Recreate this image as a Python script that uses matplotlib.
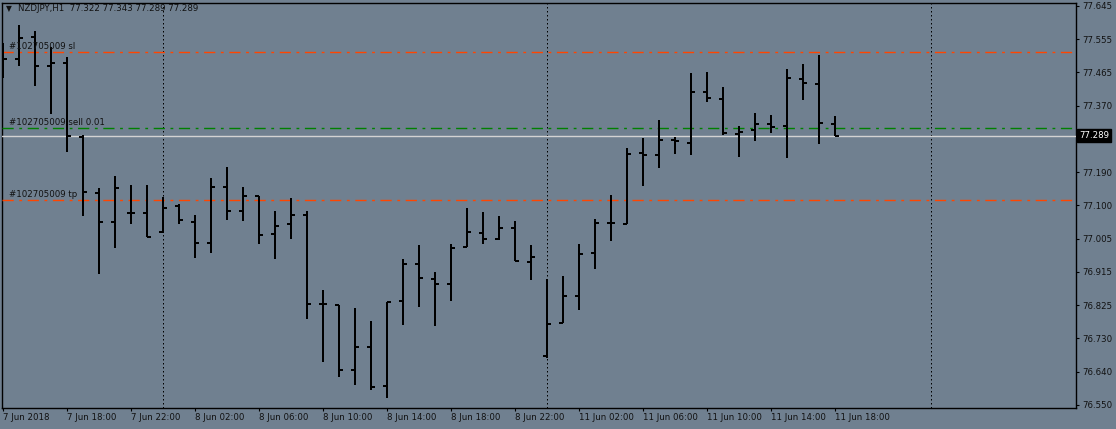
import matplotlib
matplotlib.use("Agg")
import matplotlib.pyplot as plt
import numpy as np

# ---- data (NZDJPY H1) ----
opens = [77.500, 77.500, 77.560, 77.480, 77.489, 77.286, 77.132, 77.052, 77.077, 77.077,
         77.025, 77.096, 77.052, 76.995, 77.148, 77.083, 77.124, 77.019, 77.047, 77.072,
         76.827, 76.825, 76.646, 76.709, 76.602, 76.836, 76.937, 76.896, 76.882, 76.984,
         77.022, 77.006, 77.036, 76.943, 76.685, 76.775, 76.849, 76.967, 77.050, 77.047,
         77.242, 77.236, 77.277, 77.269, 77.409, 77.390, 77.294, 77.305, 77.321, 77.316,
         77.445, 77.431, 77.322]
highs = [77.544, 77.593, 77.576, 77.533, 77.505, 77.291, 77.146, 77.179, 77.154, 77.154,
         77.121, 77.102, 77.072, 77.173, 77.203, 77.148, 77.124, 77.083, 77.118, 77.083,
         76.866, 76.825, 76.816, 76.781, 76.833, 76.951, 76.989, 76.915, 76.992, 77.091,
         77.080, 77.069, 77.055, 76.989, 76.896, 76.904, 76.992, 77.061, 77.126, 77.255,
         77.283, 77.332, 77.286, 77.461, 77.464, 77.423, 77.316, 77.351, 77.346, 77.472,
         77.486, 77.511, 77.343]
lows = [77.448, 77.480, 77.426, 77.349, 77.244, 77.069, 76.910, 76.981, 77.047, 77.011,
        77.022, 77.047, 76.954, 76.967, 77.058, 77.055, 76.992, 76.951, 77.006, 76.786,
        76.668, 76.627, 76.605, 76.591, 76.569, 76.770, 76.819, 76.767, 76.836, 76.984,
        76.992, 77.003, 76.945, 76.893, 76.679, 76.775, 76.811, 76.923, 77.000, 77.047,
        77.151, 77.201, 77.239, 77.236, 77.382, 77.291, 77.231, 77.275, 77.297, 77.228,
        77.387, 77.266, 77.289]
closes = [77.500, 77.557, 77.480, 77.489, 77.288, 77.135, 77.052, 77.146, 77.077, 77.011,
          77.091, 77.058, 76.995, 77.148, 77.083, 77.124, 77.017, 77.041, 77.072, 76.827,
          76.827, 76.646, 76.709, 76.600, 76.833, 76.937, 76.899, 76.882, 76.981, 77.025,
          77.006, 77.036, 76.945, 76.956, 76.772, 76.849, 76.965, 77.050, 77.050, 77.239,
          77.236, 77.277, 77.275, 77.409, 77.393, 77.297, 77.299, 77.321, 77.313, 77.448,
          77.434, 77.324, 77.289]

sl_price = 77.518
entry_price = 77.309
tp_price = 77.112
bid_price = 77.289
order_id = "#102705009"

x_labels = ["7 Jun 2018", "7 Jun 18:00", "7 Jun 22:00", "8 Jun 02:00", "8 Jun 06:00",
            "8 Jun 10:00", "8 Jun 14:00", "8 Jun 18:00", "8 Jun 22:00", "11 Jun 02:00",
            "11 Jun 06:00", "11 Jun 10:00", "11 Jun 14:00", "11 Jun 18:00"]
x_label_step = 4
day_separators = [10, 34, 58]   # bar indices of 8 Jun 00:00, 11 Jun 00:00, 12 Jun 00:00

y_labels = ["77.645", "77.555", "77.465", "77.370", "77.280", "77.190", "77.100",
            "77.005", "76.915", "76.825", "76.730", "76.640", "76.550"]

title = "NZDJPY,H1  77.322 77.343 77.289 77.289"

# ---- style ----
BG = "#708090"
W, H = 1116, 429
fig = plt.figure(figsize=(W / 100, H / 100), dpi=100, facecolor=BG)
ax = fig.add_axes([2 / W, 21 / H, 1074 / W, 405 / H], facecolor=BG)

n = len(opens)
idx = np.arange(n)
px = 0.72  # points per pixel

ytop = float(y_labels[0])
ybot = float(y_labels[-1])
ppx = (ytop - ybot) / 399.0
ax.set_ylim(ybot - 3 * ppx, ytop + 3 * ppx)
ax.set_xlim(-1 / 16, 1073 / 16)

# bars
ax.vlines(idx, lows, highs, color="black", lw=2 * px, zorder=5)
ax.hlines(opens, idx - 0.28, idx, color="black", lw=2 * px, zorder=5)
ax.hlines(closes, idx, idx + 0.28, color="black", lw=2 * px, zorder=5)

# day separators
for d in day_separators:
    ax.axvline(d, color="black", lw=1 * px, linestyle=(0, (1.5, 2.5)), zorder=2)

# order lines
dash = (0, (8, 4, 2, 4))
ax.axhline(sl_price, color="#FF4500", lw=1.4 * px, linestyle=dash, zorder=3)
ax.axhline(tp_price, color="#FF4500", lw=1.4 * px, linestyle=dash, zorder=3)
ax.axhline(entry_price, color="#008000", lw=1.4 * px, linestyle=dash, zorder=3)
ax.axhline(bid_price, color="#D3D3D3", lw=1.4 * px, zorder=3)

tfont = dict(family="DejaVu Sans", size=6.2, color="#111111")
ax.text(0.4, sl_price + 1.5 * ppx, f"{order_id} sl", va="bottom", ha="left", zorder=6, **tfont)
ax.text(0.4, entry_price + 1.5 * ppx, f"{order_id} sell 0.01", va="bottom", ha="left", zorder=6, **tfont)
ax.text(0.4, tp_price + 1.5 * ppx, f"{order_id} tp", va="bottom", ha="left", zorder=6, **tfont)

# title
ax.text(0.2, ytop - 3 * ppx, "\u25bc", va="center", ha="left", zorder=6,
        family="DejaVu Sans", size=5.5, color="#111111")
ax.text(0.95, ytop - 3 * ppx, title, va="center", ha="left", zorder=6,
        family="DejaVu Sans", size=6.2, color="#111111")

# y axis (right)
yticks = np.linspace(ytop, ybot, len(y_labels))
ax.yaxis.tick_right()
ax.set_yticks(yticks)
ax.set_yticklabels([("" if abs(v - bid_price) < 0.02 else s) for v, s in zip(yticks, y_labels)])
ax.tick_params(axis="y", length=3 * px, width=0.8, pad=3 * px, labelsize=6.2,
               colors="black", labelcolor="#111111")
for t in ax.get_yticklabels():
    t.set_family("DejaVu Sans")

# bid price box
ax.text(1.0 + 3 / 1074, bid_price, "77.289", transform=ax.get_yaxis_transform(),
        va="center", ha="left", size=6.2, color="white", family="DejaVu Sans",
        bbox=dict(boxstyle="square,pad=0.2", fc="black", ec="black"), zorder=10, clip_on=False)

# x axis
ax.set_xticks(np.arange(len(x_labels)) * x_label_step)
ax.set_xticklabels(x_labels)
ax.tick_params(axis="x", length=3 * px, width=0.8, pad=2.5 * px, labelsize=6.2,
               colors="black", labelcolor="#111111")
for t in ax.get_xticklabels():
    t.set_ha("left")
    t.set_family("DejaVu Sans")

for s in ax.spines.values():
    s.set_color("black")
    s.set_linewidth(1)

fig.savefig("out.png", dpi=100, facecolor=BG)
